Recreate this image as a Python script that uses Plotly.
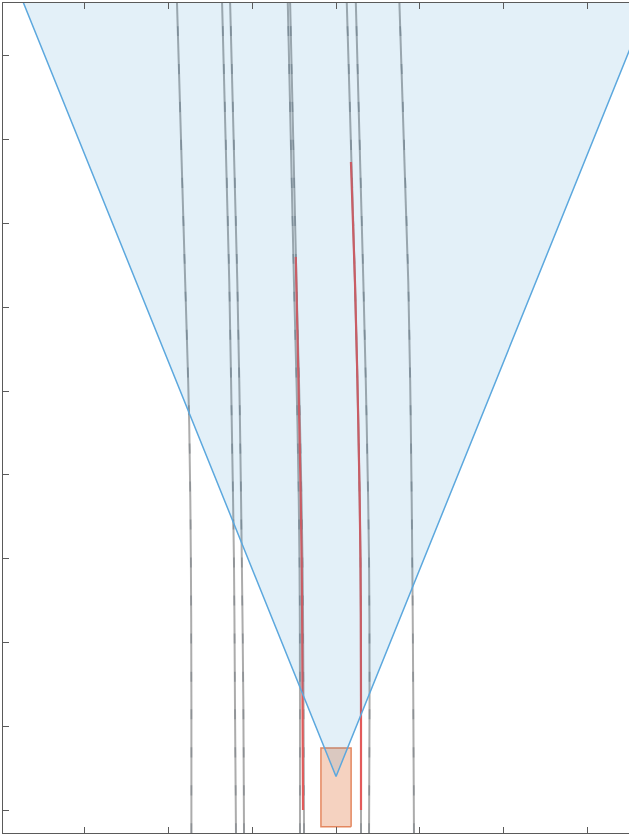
import numpy as np
import plotly.graph_objects as go

# Forward stations (m) at which lane markings were read
stations = [-1.4, 6.44, 14.80, 23.03, 31.50, 48.2]

# Lateral offsets (m, positive = left) of gray lane markings at each station
lane_A = [8.63, 8.63, 8.66, 8.76, 9.00, 9.49]
lane_B1 = [5.97, 6.03, 6.09, 6.22, 6.37, 6.80]
lane_B2 = [5.49, 5.53, 5.62, 5.73, 5.89, 6.32]
lane_C1 = [2.15, 2.15, 2.18, 2.30, 2.51, 2.88]
lane_C2 = [1.91, 1.94, 2.00, 2.15, 2.36, 2.74]
lane_D1 = [-1.49, -1.49, -1.46, -1.33, -1.13, -0.64]
lane_D2 = [-1.97, -2.00, -1.97, -1.83, -1.63, -1.18]
lane_E = [-4.65, -4.61, -4.55, -4.46, -4.31, -3.78]

# Detected lane boundaries (red)
det_left_fwd = [0.0, 6.44, 14.80, 23.03, 31.50, 33.0]
det_left_lat = [1.97, 2.00, 2.05, 2.19, 2.37, 2.40]
det_right_fwd = [0.0, 6.44, 14.80, 23.03, 31.50, 38.66]
det_right_lat = [-1.49, -1.49, -1.46, -1.33, -1.13, -0.89]

# Ego vehicle extent
ego_fwd = [-1.0, 3.7]
ego_lat = [-0.9, 0.9]

# Sensor coverage
sensor_fwd = 2.0
sensor_fov_deg = 44.0
sensor_range = 80.0

# Axis ticks
x_ticks = [15, 10, 5, 0, -5, -10, -15]
y_ticks = [0, 5, 10, 15, 20, 25, 30, 35, 40, 45]

fig = go.Figure()

# ego vehicle
ex = [ego_lat[0], ego_lat[1], ego_lat[1], ego_lat[0], ego_lat[0]]
ey = [ego_fwd[0], ego_fwd[0], ego_fwd[1], ego_fwd[1], ego_fwd[0]]
fig.add_trace(go.Scatter(x=ex, y=ey, mode="lines", fill="toself",
                         fillcolor="rgb(245,210,192)",
                         line=dict(color="rgb(228,135,95)", width=1.5),
                         hoverinfo="skip", showlegend=False))

# gray lane markings
for lat in [lane_A, lane_B1, lane_B2, lane_C1, lane_C2, lane_D1, lane_D2, lane_E]:
    fig.add_trace(go.Scatter(x=lat, y=stations, mode="lines",
                             line=dict(color="rgb(172,172,172)", width=2, shape="spline"),
                             hoverinfo="skip", showlegend=False))
    fig.add_trace(go.Scatter(x=lat, y=stations, mode="lines",
                             line=dict(color="rgb(140,144,148)", width=1.5, shape="spline",
                                       dash="10px,28px"),
                             hoverinfo="skip", showlegend=False))

# detected boundaries
fig.add_trace(go.Scatter(x=det_left_lat, y=det_left_fwd, mode="lines",
                         line=dict(color="rgb(226,90,90)", width=2.2, shape="spline"),
                         hoverinfo="skip", showlegend=False))
fig.add_trace(go.Scatter(x=det_right_lat, y=det_right_fwd, mode="lines",
                         line=dict(color="rgb(226,90,90)", width=2.2, shape="spline"),
                         hoverinfo="skip", showlegend=False))

# coverage area
half = np.deg2rad(sensor_fov_deg / 2)
cx = [0, sensor_range * np.sin(half), -sensor_range * np.sin(half), 0]
cy = [sensor_fwd, sensor_fwd + sensor_range * np.cos(half),
      sensor_fwd + sensor_range * np.cos(half), sensor_fwd]
fig.add_trace(go.Scatter(x=cx, y=cy, mode="lines", fill="toself",
                         fillcolor="rgba(0,114,189,0.11)",
                         line=dict(color="rgb(92,168,222)", width=1.5),
                         hoverinfo="skip", showlegend=False))

axis_common = dict(showgrid=False, zeroline=False, showticklabels=False,
                   ticks="inside", ticklen=6, tickwidth=1, tickcolor="rgb(90,90,90)",
                   showline=True, linecolor="rgb(90,90,90)", linewidth=1)

fig.update_layout(
    width=629, height=836,
    margin=dict(l=3, r=0, t=3, b=3),
    plot_bgcolor="white", paper_bgcolor="white",
    xaxis=dict(range=[19.87, -17.48], tickvals=x_ticks, mirror="ticks", **axis_common),
    yaxis=dict(range=[-1.37, 48.15], tickvals=y_ticks, mirror=False, **axis_common),
)

fig.write_html("out.html", config={"displayModeBar": False},
               post_script="document.body.style.margin='0px';document.body.style.overflow='hidden';")
